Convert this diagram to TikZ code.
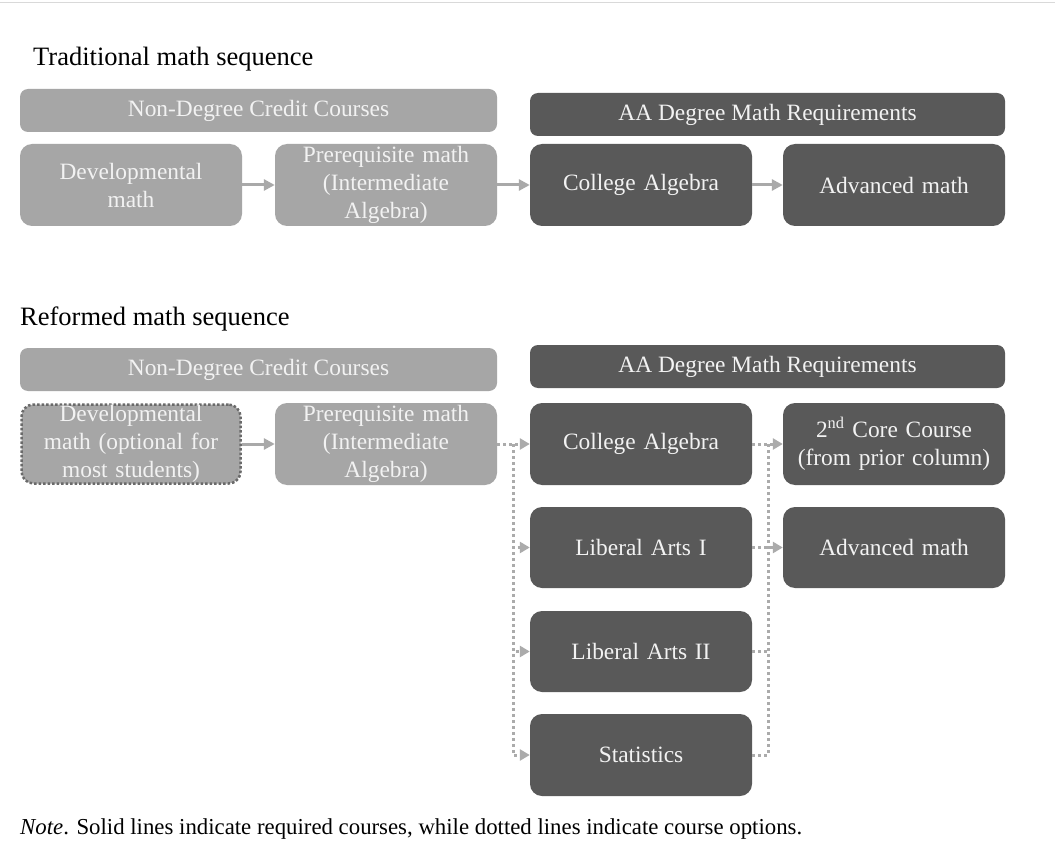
\documentclass[tikz,border=0pt]{standalone}
\usepackage{fontspec}
\setmainfont{Liberation Serif}
\usetikzlibrary{arrows.meta}
\definecolor{lightbox}{HTML}{A6A6A6}
\definecolor{darkbox}{HTML}{595959}
\definecolor{boxtext}{HTML}{F2F2F2}
\definecolor{linkgray}{HTML}{A9A9A9}
\definecolor{dotgray}{HTML}{ABABAB}
\definecolor{bordergray}{HTML}{6A6A6A}
\tikzset{
  boxfont/.style={font=\fontsize{23.4}{28}\selectfont},
  course/.style={rectangle, rounded corners=12pt, minimum width=222pt, minimum height=82pt,
    inner sep=0pt, align=center, text=boxtext, boxfont, text width=215pt},
  lightcourse/.style={course, fill=lightbox},
  darkcourse/.style={course, fill=darkbox},
  header/.style={rectangle, rounded corners=8pt, minimum height=43pt, inner sep=0pt,
    text=boxtext, boxfont},
  title/.style={anchor=base west, inner sep=0pt, font=\fontsize{26.5}{30}\selectfont},
  solidlink/.style={draw=linkgray, line width=3pt, -{Triangle[length=11pt,width=11pt]}},
  dotline/.style={draw=dotgray, line width=3pt, dash pattern=on 3pt off 3pt},
  dotlink/.style={dotline, -{Triangle[length=10pt,width=11pt, fill=dotgray]}},
}
\begin{document}
\begin{tikzpicture}[x=1pt,y=-1pt]
\useasboundingbox (0,0) rectangle (1055,845);
\fill[white] (0,0) rectangle (1055,845);
\coordinate (tl) at (0,3);
\coordinate (tr) at (1055,3);
\draw[draw=black!15, line width=1pt] (tl) -- (tr);

% Traditional
\node[title] (t1) at (33,66) {Traditional math sequence};
\node[header, fill=lightbox, minimum width=477pt] (ndh1) at (258.5,110.5) {Non-Degree Credit Courses};
\node[header, fill=darkbox, minimum width=475pt] (aah1) at (767.5,114.5) {AA Degree Math Requirements};
\node[lightcourse] (dev1) at (131,185) {Developmental\\math};
\node[lightcourse] (pre1) at (386,185) {Prerequisite math\\(Intermediate\\Algebra)};
\node[darkcourse] (ca1) at (641,185) {College Algebra};
\node[darkcourse] (am1) at (894,185) {Advanced math};
\draw[solidlink] (dev1) -- (pre1);
\draw[solidlink] (pre1) -- (ca1);
\draw[solidlink] (ca1) -- (am1);

% Reformed
\node[title] (t2) at (20,325) {Reformed math sequence};
\node[header, fill=lightbox, minimum width=477pt] (ndh2) at (258.5,369.5) {Non-Degree Credit Courses};
\node[header, fill=darkbox, minimum width=475pt] (aah2) at (767.5,366.5) {AA Degree Math Requirements};
\node[lightcourse, draw=bordergray, line width=2.5pt, dash pattern=on 2.5pt off 2pt, minimum width=219pt, minimum height=79pt] (dev2) at (131,444) {Developmental\\math (optional for\\most students)};
\node[lightcourse] (pre2) at (386,444) {Prerequisite math\\(Intermediate\\Algebra)};
\node[darkcourse] (ca2) at (641,444) {College Algebra};
\node[darkcourse, minimum height=81pt] (la1) at (641,547.5) {Liberal Arts I};
\node[darkcourse, minimum height=81pt] (la2) at (641,651.5) {Liberal Arts II};
\node[darkcourse] (st) at (641,755) {Statistics};
\node[darkcourse] (core2) at (894,444) {2\textsuperscript{nd} Core Course\\(from prior column)};
\node[darkcourse, minimum height=81pt] (am2) at (894,547.5) {Advanced math};

\draw[solidlink] (dev2) -- (pre2);
\coordinate (jl) at (513,444);
\coordinate (jr) at (768,444);
\draw[dotlink] (pre2.east) -- (ca2.west);
\draw[dotlink] (jl) |- (la1.west);
\draw[dotlink] (jl) |- (la2.west);
\draw[dotlink] (jl) |- (st.west);
\draw[dotlink] (ca2.east) -- (core2.west);
\draw[dotlink] (la1.east) -- (am2.west);
\draw[dotline] (la2.east) -- (la2.east -| jr);
\draw[dotline] (st.east) -| (jr);

% Note
\node[anchor=base west, inner sep=0pt, font=\fontsize{22.8}{26}\selectfont] (note) at (20,834)
  {\textit{Note}. Solid lines indicate required courses, while dotted lines indicate course options.};
\end{tikzpicture}
\end{document}
